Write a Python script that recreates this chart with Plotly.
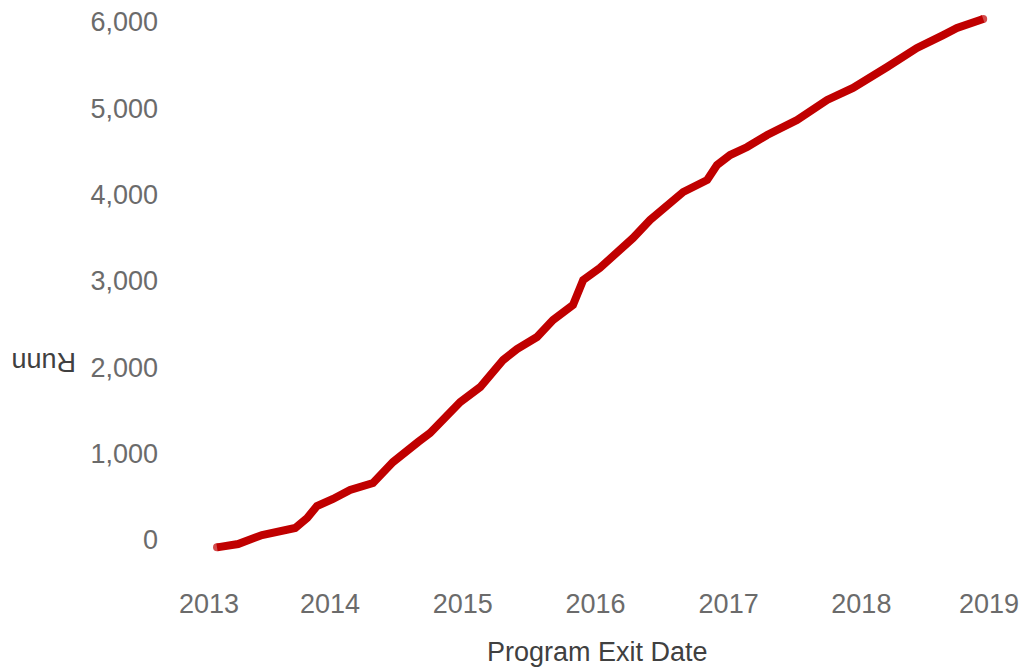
import plotly.graph_objects as go

# Data
exit_dates = [
    "2013-02-24", "2013-04-23", "2013-06-28", "2013-08-17", "2013-09-27",
    "2013-10-30", "2013-11-26", "2014-01-09", "2014-02-25", "2014-04-29",
    "2014-06-23", "2014-08-31", "2014-10-03", "2014-12-25", "2015-02-18",
    "2015-04-22", "2015-05-30", "2015-07-24", "2015-09-06", "2015-10-31",
    "2015-11-28", "2016-01-13", "2016-03-03", "2016-04-13", "2016-05-30",
    "2016-08-29", "2016-11-03", "2016-11-30", "2017-01-05", "2017-02-21",
    "2017-04-17", "2017-07-08", "2017-09-29", "2017-12-09", "2018-03-13",
    "2018-06-03", "2018-08-14", "2018-09-21", "2018-12-02",
]
running_total = [
    -85, -46, 58, 93, 139,
    255, 394, 475, 579, 660,
    903, 1135, 1239, 1598, 1772,
    2085, 2212, 2351, 2548, 2722,
    3012, 3151, 3336, 3498, 3707,
    4031, 4170, 4344, 4459, 4552,
    4691, 4865, 5097, 5236, 5479,
    5699, 5849, 5931, 6035,
]
y_ticks = [0, 1000, 2000, 3000, 4000, 5000, 6000]
x_ticks = ["2013-02-02", "2014-01-01", "2015-01-01", "2016-01-01",
           "2017-01-01", "2018-01-01", "2018-12-18"]
x_tick_labels = ["2013", "2014", "2015", "2016", "2017", "2018", "2019"]

FONT = "Liberation Sans, Arial, sans-serif"
LINE_COLOR = "#c00000"
TICK_COLOR = "#6b6b6b"
TITLE_COLOR = "#404040"

n = len(running_total)
end_sizes = [8] + [0] * (n - 2) + [8]   # rounded line ends

fig = go.Figure()
fig.add_trace(go.Scatter(
    x=exit_dates, y=running_total, mode="lines+markers",
    line=dict(color=LINE_COLOR, width=8),
    marker=dict(color=LINE_COLOR, size=end_sizes, line=dict(width=0)),
    hoverinfo="skip",
))

fig.update_layout(
    width=1019, height=660,
    margin=dict(l=157, r=10, t=5, b=83),
    paper_bgcolor="white", plot_bgcolor="white",
    showlegend=False,
    font=dict(family=FONT, size=27, color=TICK_COLOR),
    xaxis=dict(
        type="date",
        range=["2012-10-04", "2019-03-05"],
        tickvals=x_ticks, ticktext=x_tick_labels,
        showgrid=False, zeroline=False, showline=False, ticks="",
        ticklabeloverflow="allow", automargin=False,
        tickfont=dict(family=FONT, size=27, color=TICK_COLOR),
    ),
    yaxis=dict(
        range=[-521, 6104.4],
        tickvals=y_ticks, tickformat=",d",
        showgrid=False, zeroline=False, showline=False, ticks="",
        ticklabeloverflow="allow", ticklabelstandoff=6, automargin=False,
        tickfont=dict(family=FONT, size=27, color=TICK_COLOR),
    ),
    annotations=[
        dict(
            text="Runn", textangle=180, showarrow=False,
            xref="paper", yref="paper", x=-0.1432, y=0.3899,
            xanchor="center", yanchor="middle",
            font=dict(family=FONT, size=27, color=TITLE_COLOR),
        ),
        dict(
            text="Program Exit Date", showarrow=False,
            xref="paper", yref="paper", x=0.5082, y=-0.1171,
            xanchor="center", yanchor="middle",
            font=dict(family=FONT, size=27, color=TITLE_COLOR),
        ),
    ],
)

fig.write_html("out.html")
